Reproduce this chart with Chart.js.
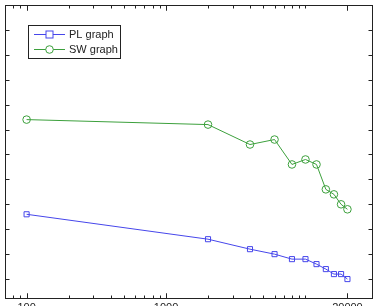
<!DOCTYPE html>
<html>
<head>
<meta charset="utf-8">
<script src="https://cdn.jsdelivr.net/npm/chart.js@4/dist/chart.umd.min.js"></script>
<style>
  html, body { margin: 0; padding: 0; background: #fff; }
  #wrap { width: 378px; height: 306px; }
</style>
</head>
<body>
<div id="wrap"><canvas id="chart" width="378" height="306"></canvas></div>
<script>
// values
const xValues = [100, 2000, 4000, 6000, 8000, 10000, 12000, 14000, 16000, 18000, 20000];
const plValues = [3.6, 2.6, 2.2, 2.0, 1.8, 1.8, 1.6, 1.4, 1.2, 1.2, 1.0];
const swValues = [7.4, 7.2, 6.4, 6.6, 5.6, 5.8, 5.6, 4.6, 4.4, 4.0, 3.8];
const seriesNames = ['PL graph', 'SW graph'];
const xTickLabels = [100, 1000, 20000];
const yTickValues = [1, 2, 3, 4, 5, 6, 7, 8, 9, 10, 11, 12];

const blue = 'rgb(70,70,235)';
const green = 'rgb(60,160,60)';
const font = '11px "Liberation Sans", Arial, sans-serif';

const toPoints = ys => xValues.map((x, i) => ({ x, y: ys[i] }));

// minor ticks for log axis: 2..9 x each decade
function logMinorTicks(min, max) {
  const out = [];
  for (let d = 1; d <= 100000; d *= 10) {
    for (let m = 1; m <= 9; m++) {
      const v = m * d;
      if (v >= min && v <= max) out.push(v);
    }
  }
  return out;
}

const frame = {
  id: 'frame',
  afterDraw(chart) {
    const { ctx, chartArea: a, scales } = chart;
    const sx = scales.x, sy = scales.y;
    const L = Math.round(a.left) + 0.5, R = Math.round(a.right) + 0.5;
    const T = Math.round(a.top) + 0.5, B = Math.round(a.bottom) + 0.5;
    ctx.save();
    ctx.strokeStyle = '#222';
    ctx.lineWidth = 1;
    ctx.strokeRect(L, T, R - L, B - T);

    ctx.beginPath();
    logMinorTicks(sx.min, sx.max).forEach(v => {
      const px = Math.round(sx.getPixelForValue(v)) + 0.5;
      const len = xTickLabels.includes(v) ? 5 : 3;
      ctx.moveTo(px, B); ctx.lineTo(px, B - len);
      ctx.moveTo(px, T); ctx.lineTo(px, T + len);
    });
    xTickLabels.forEach(v => {
      const px = Math.round(sx.getPixelForValue(v)) + 0.5;
      ctx.moveTo(px, B); ctx.lineTo(px, B - 5);
      ctx.moveTo(px, T); ctx.lineTo(px, T + 5);
    });
    yTickValues.forEach(v => {
      const py = Math.round(sy.getPixelForValue(v)) + 0.5;
      ctx.moveTo(L, py); ctx.lineTo(L + 4, py);
      ctx.moveTo(R, py); ctx.lineTo(R - 4, py);
    });
    ctx.stroke();

    // tick labels sit partly below the picture's bottom edge
    ctx.fillStyle = '#222';
    ctx.font = font;
    ctx.textAlign = 'center';
    ctx.textBaseline = 'top';
    xTickLabels.forEach(v => {
      ctx.fillText(String(v), sx.getPixelForValue(v), B + 3.5);
    });

    // legend box
    const lx = 28.5, ly = 25.5, lw = 92, lh = 33;
    ctx.fillStyle = '#fff';
    ctx.fillRect(lx, ly, lw, lh);
    ctx.strokeStyle = '#222';
    ctx.strokeRect(lx, ly, lw, lh);
    chart.data.datasets.forEach((ds, i) => {
      const y = 34.5 + i * 15;
      ctx.strokeStyle = ds.borderColor;
      ctx.beginPath();
      ctx.moveTo(34, y); ctx.lineTo(65, y);
      ctx.stroke();
      ctx.beginPath();
      if (ds.pointStyle === 'rect') {
        ctx.fillStyle = '#fff';
        ctx.fillRect(46, y - 3.5, 7, 7);
        ctx.strokeRect(46, y - 3.5, 7, 7);
      } else {
        ctx.fillStyle = '#fff';
        ctx.arc(49.5, y, 3.8, 0, Math.PI * 2);
        ctx.fill();
        ctx.stroke();
      }
      ctx.fillStyle = '#222';
      ctx.textAlign = 'left';
      ctx.textBaseline = 'middle';
      ctx.fillText(ds.label, 69, y);
    });
    ctx.restore();
  }
};

new Chart(document.getElementById('chart').getContext('2d'), {
  type: 'line',
  data: {
    datasets: [
      {
        label: seriesNames[0], data: toPoints(plValues),
        borderColor: blue, borderWidth: 1, backgroundColor: 'transparent',
        pointStyle: 'rect', pointRadius: 3.6, pointBorderWidth: 1,
        pointBorderColor: blue, pointBackgroundColor: 'transparent', tension: 0
      },
      {
        label: seriesNames[1], data: toPoints(swValues),
        borderColor: green, borderWidth: 1, backgroundColor: 'transparent',
        pointStyle: 'circle', pointRadius: 3.8, pointBorderWidth: 1,
        pointBorderColor: green, pointBackgroundColor: 'transparent', tension: 0
      }
    ]
  },
  options: {
    responsive: false,
    animation: false,
    devicePixelRatio: 1,
    layout: { padding: { left: 3, top: 4, right: 6, bottom: 8 } },
    plugins: { legend: { display: false }, tooltip: { enabled: false } },
    scales: {
      x: { type: 'logarithmic', min: 70, max: 30000, display: false },
      y: { type: 'linear', min: 0.24, max: 12, display: false }
    }
  },
  plugins: [frame]
});
</script>
</body>
</html>
